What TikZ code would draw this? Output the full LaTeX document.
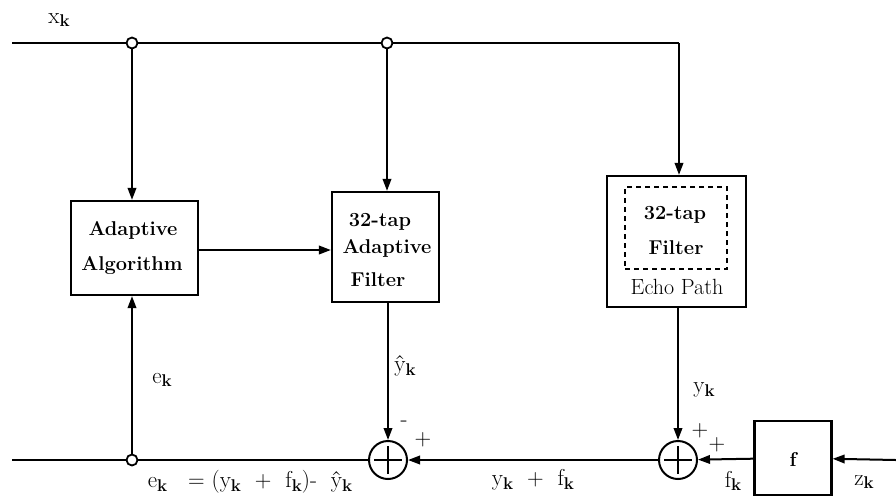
\documentclass[tikz,border=0pt]{standalone}
\usetikzlibrary{arrows.meta}
\newcommand{\kk}{\raisebox{-0.35ex}{\fontsize{17}{17}\selectfont\bfseries k}}
\newcommand{\lbk}[1]{#1\kk}
\begin{document}
\begin{tikzpicture}[x=1pt,y=-1pt,
  line width=2pt,
  >={Triangle[length=12pt,width=8.5pt]},
  blk/.style={draw,line width=2.2pt,inner sep=0pt},
  txt/.style={font=\fontsize{22}{24}\selectfont},
  btxt/.style={font=\fontsize{20}{22}\selectfont\bfseries},
  lab/.style={font=\fontsize{23}{25}\selectfont},
  jn/.style={circle,draw,fill=white,line width=1.8pt,minimum size=11pt,inner sep=0pt},
  sumnode/.style={circle,draw,line width=2pt,minimum size=38pt,inner sep=0pt}]
\useasboundingbox (0,0) rectangle (896,496);
% blocks
\node[blk,minimum width=127pt,minimum height=94pt] (aa) at (134.5,248) {};
\node[btxt] at (133,230) {Adaptive};
\node[btxt] at (132,266) {Algorithm};
\node[blk,minimum width=107pt,minimum height=110pt] (af) at (385.5,247) {};
\node[btxt] at (380,222) {32-tap};
\node[btxt] at (387,248) {Adaptive};
\node[btxt] at (378,280) {Filter};
\node[blk,minimum width=139pt,minimum height=131pt] (ep) at (676.5,241.5) {};
\node[draw,dashed,dash pattern=on 5pt off 4pt,line width=2pt,minimum width=102pt,minimum height=82pt] (dash) at (676,228) {};
\node[btxt] at (675,215) {32-tap};
\node[btxt] at (676,248) {Filter};
\node[txt] at (677,287) {Echo Path};
\node[blk,minimum width=77pt,minimum height=74pt] (fb) at (793,458) {};
\node[btxt] at (793,459) {f};
% sums
\node[sumnode] (s1) at (388,460) {};
\node[sumnode] (s2) at (678,460) {};
\draw (s1.center) ++(-14,0) -- ++(28,0) (s1.center) ++(0,-14) -- ++(0,28);
\draw (s2.center) ++(-14,0) -- ++(28,0) (s2.center) ++(0,-14) -- ++(0,28);
% coordinates
\coordinate (xin) at (12,43);
\coordinate (corner) at (679,43);
\coordinate (eout) at (12,460);
\coordinate (zin) at (896,460);
\node[jn] (j1) at (132,43) {};
\node[jn] (j2) at (387,43) {};
\node[jn] (j3) at (132,460) {};
% top line
\draw (xin) -- (j1) -- (j2) -- (corner);
\draw[->] (corner) -- (ep.north -| corner);
\draw[->] (j1) -- (aa.north -| j1);
\draw[->] (j2) -- (af.north -| j2);
\draw[->] (aa.east |- 0,250) -- (af.west |- 0,250);
% bottom
\draw[->] (j3) -- (aa.south -| j3);
\draw (eout) -- (j3) -- (s1);
\draw[->] (s2) -- (s1);
\draw[->] (fb) -- (s2);
\draw[->] (zin) -- (fb);
\draw[->] (af.south -| s1) -- (s1);
\draw[->] (ep.south -| s2) -- (s2);
% labels
\node[lab] at (59,20) {\lbk{x}};
\node[lab] at (162,380) {\lbk{e}};
\node[lab] at (405,366) {\lbk{\^y}};
\node[lab] at (404,424) {-};
\node[lab] at (423,440) {+};
\node[lab] at (704,390) {\lbk{y}};
\node[lab] at (700,431) {+};
\node[lab] at (717,445) {+};
\node[lab] at (733,481) {\lbk{f}};
\node[lab] at (864,482) {\lbk{z}};
\node[lab] at (250,482) {\lbk{e} \ \ = (\lbk{y} \ +\ \ \lbk{f})- \ \lbk{\^y}};
\node[lab] at (533,480) {\lbk{y} \ +\ \ \lbk{f}};
\end{tikzpicture}
\end{document}
